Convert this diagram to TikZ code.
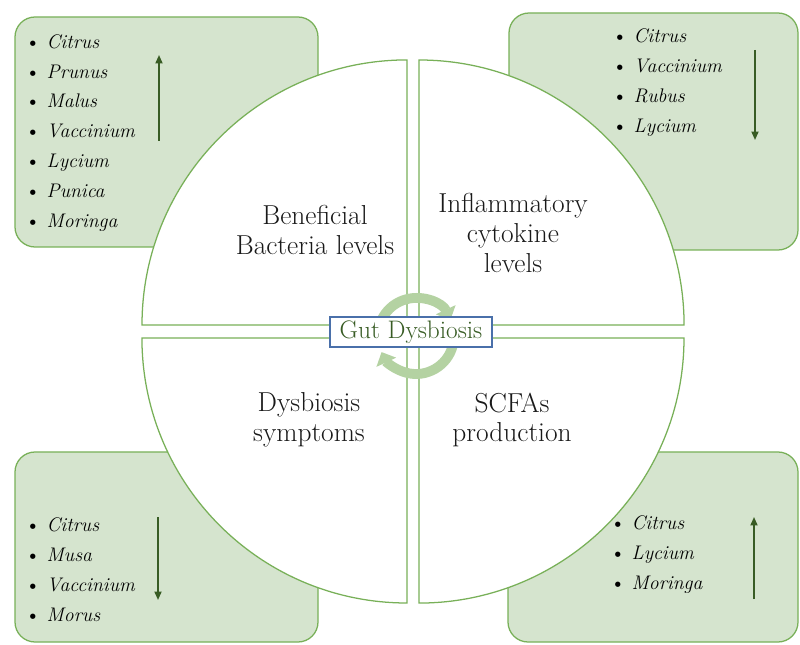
\documentclass[tikz,border=0pt]{standalone}
\usepackage{fontspec}
\usepackage{xcolor}
\definecolor{boxgreen}{RGB}{213,228,206}
\definecolor{linegreen}{RGB}{120,176,88}
\definecolor{darkgreen}{RGB}{56,92,36}
\definecolor{turngreen}{RGB}{180,210,162}
\definecolor{gdblue}{RGB}{74,112,170}
\usepackage{tikz}
\usetikzlibrary{arrows.meta}

\begin{document}
\begin{tikzpicture}[
    x=0.025cm, y=0.025cm,
    box/.style={draw=linegreen, fill=boxgreen, line width=0.9pt, rounded corners=0.5cm},
    quad/.style={draw=linegreen, fill=white, line width=0.9pt},
    qtext/.style={align=center, font=\fontsize{19.5}{21.3}\selectfont, text=black!90},
    plist/.style={align=left, anchor=west, inner sep=0pt, font=\fontsize{14}{21.3}\selectfont},
    gdbox/.style={draw=gdblue, fill=white, line width=1pt, text=darkgreen, font=\fontsize{18}{20}\selectfont, minimum width=4.05cm, minimum height=0.75cm, inner sep=2pt},
    trend/.style={-{Triangle[length=6pt,width=5pt]}, line width=1.2pt, darkgreen},
    turn/.style={-{Triangle[length=8pt,width=15pt]}, line width=7pt, turngreen}
]
\useasboundingbox (0,0) rectangle (800,644);

\draw[box] (15,397) rectangle (318,627);
\draw[box] (509,394) rectangle (798,631);
\draw[box] (15,2) rectangle (318,192);
\draw[box] (508,2) rectangle (798,192);

\draw[quad] (407,319) -- (142,319) arc[start angle=180, end angle=90, radius=6.625cm] -- cycle;
\draw[quad] (419,319) -- (419,584) arc[start angle=90, end angle=0, radius=6.625cm] -- cycle;
\draw[quad] (407,306) -- (407,41) arc[start angle=270, end angle=180, radius=6.625cm] -- cycle;
\draw[quad] (419,306) -- (684,306) arc[start angle=0, end angle=-90, radius=6.625cm] -- cycle;

\coordinate (cen) at (416,308);
\draw[turn] ([shift={(195:0.95cm)}]cen) arc[start angle=195, end angle=25, radius=0.95cm];
\draw[turn] ([shift={(-15:0.95cm)}]cen) arc[start angle=-15, end angle=-155, radius=0.95cm];

\node[gdbox] (gut) at (411,312) {Gut Dysbiosis};

\node[qtext] (benef) at (315,414) {Beneficial\\Bacteria levels};
\node[qtext] (inflam) at (513,411) {Inflammatory\\cytokine\\levels};
\node[qtext] (sympt) at (309,224) {Dysbiosis\\symptoms};
\node[qtext] (scfa) at (512,224) {SCFAs\\production};

\node[plist] (tllist) at (25,511) {\textbullet\ \textit{Citrus}\\\textbullet\ \textit{Prunus}\\\textbullet\ \textit{Malus}\\\textbullet\ \textit{Vaccinium}\\\textbullet\ \textit{Lycium}\\\textbullet\ \textit{Punica}\\\textbullet\ \textit{Moringa}};
\node[plist] (trlist) at (612,561) {\textbullet\ \textit{Citrus}\\\textbullet\ \textit{Vaccinium}\\\textbullet\ \textit{Rubus}\\\textbullet\ \textit{Lycium}};
\node[plist] (bllist) at (25,74) {\textbullet\ \textit{Citrus}\\\textbullet\ \textit{Musa}\\\textbullet\ \textit{Vaccinium}\\\textbullet\ \textit{Morus}};
\node[plist] (brlist) at (610,89) {\textbullet\ \textit{Citrus}\\\textbullet\ \textit{Lycium}\\\textbullet\ \textit{Moringa}};

\coordinate (tlfrom) at (159,503);
\coordinate (tlto) at (159,589);
\coordinate (trfrom) at (755,594);
\coordinate (trto) at (755,504);
\coordinate (blfrom) at (158,127);
\coordinate (blto) at (158,44);
\coordinate (brfrom) at (754,45);
\coordinate (brto) at (754,127);
\draw[trend] (tlfrom) -- (tlto);
\draw[trend] (trfrom) -- (trto);
\draw[trend] (blfrom) -- (blto);
\draw[trend] (brfrom) -- (brto);
\end{tikzpicture}
\end{document}
